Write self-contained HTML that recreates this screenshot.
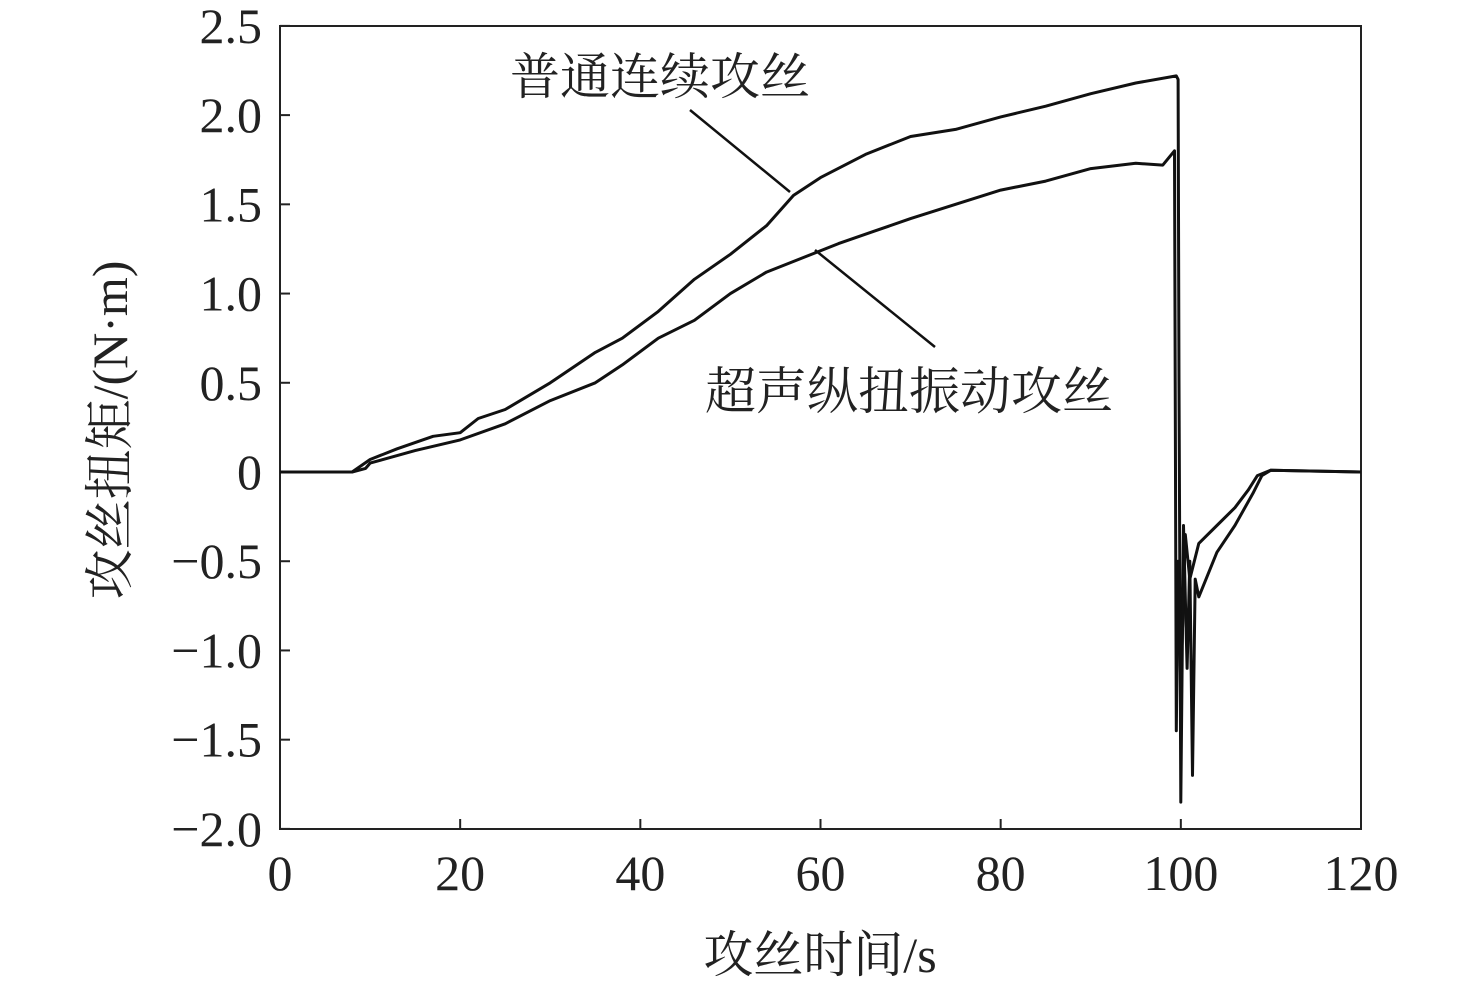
<!DOCTYPE html>
<html><head><meta charset="utf-8"><style>
body{margin:0;background:#fff}
svg text{font-family:"Liberation Serif","Noto Serif CJK SC",serif;fill:#222}
</style></head><body>
<svg width="1476" height="990">
<g id="g"></g>
</svg>
<script>
const xTicks=[0,20,40,60,80,100,120];
const yTicks=[2.5,2.0,1.5,1.0,0.5,0,-0.5,-1.0,-1.5,-2.0];
const yTickLabels=["2.5","2.0","1.5","1.0","0.5","0","\u22120.5","\u22121.0","\u22121.5","\u22122.0"];
const s1T=[0,8,10,13,17,20,22,25,30,35,38,42,46,50,54,57,60,65,70,75,80,85,90,95,99.5,99.7,99.8,100,100.3,100.7,101,101.3,101.6,102,104,106,108,109,110,120];
const s1V=[0,0,0.07,0.13,0.2,0.22,0.3,0.35,0.5,0.67,0.75,0.9,1.08,1.22,1.38,1.55,1.65,1.78,1.88,1.92,1.99,2.05,2.12,2.18,2.22,2.2,0.5,-1.85,-0.3,-1.1,-0.5,-1.7,-0.6,-0.7,-0.45,-0.3,-0.12,-0.02,0.01,0];
const s2T=[0,8,9.5,10,15,20,25,30,35,38,42,46,50,54,58,62,66,70,75,80,85,90,95,98,99.3,99.5,99.7,100,100.5,101,102,104,106,107.5,108.5,110,120];
const s2V=[0,0,0.02,0.05,0.12,0.18,0.27,0.4,0.5,0.6,0.75,0.85,1.0,1.12,1.2,1.28,1.35,1.42,1.5,1.58,1.63,1.7,1.73,1.72,1.8,-1.45,-0.5,-1.2,-0.35,-0.6,-0.4,-0.3,-0.2,-0.1,-0.02,0.01,0];
const X=v=>280+v*(1081/120), Y=v=>472-v*(803/4.5);
const g=document.getElementById('g'),NS='http://www.w3.org/2000/svg';
function mk(t,a,txt){const e=document.createElementNS(NS,t);for(const k in a)e.setAttribute(k,a[k]);if(txt!=null)e.textContent=txt;g.appendChild(e);return e;}
let e=mk('rect',{x:280,y:26,width:1081,height:803,fill:'none',stroke:'#222','stroke-width':2});


xTicks.forEach(t=>{
 let l=mk('line',{x1:X(t),x2:X(t),y1:829,y2:819,stroke:'#222','stroke-width':2});
 
 
 let tx=mk('text',{x:X(t),y:890,'font-size':50,'text-anchor':'middle'},String(t));
 
 
});
yTicks.forEach((t,i)=>{
 let l=mk('line',{x1:280,x2:290,y1:Y(t),y2:Y(t),stroke:'#222','stroke-width':2});
 
 
 let tx=mk('text',{x:262,y:Y(t)+17,'font-size':50,'text-anchor':'end'},yTickLabels[i]);
 
 
});
function line(T,V,name){
 const d=T.map((t,i)=>(i?'L':'M')+X(t).toFixed(1)+','+Y(V[i]).toFixed(1)).join('');
 let p=mk('path',{d:d,fill:'none',stroke:'#111','stroke-width':3,'stroke-linejoin':'round'});
 
 
}
line(s1T,s1V,'series-conventional-tapping');
line(s2T,s2V,'series-ultrasonic-tapping');
e=mk('line',{x1:690,y1:110,x2:790,y2:192,stroke:'#111','stroke-width':2.5});


e=mk('line',{x1:935,y1:347,x2:815,y2:250,stroke:'#111','stroke-width':2.5});


e=mk('text',{x:510,y:94,'font-size':50},'普通连续攻丝');


e=mk('text',{x:705,y:409,'font-size':51},'超声纵扭振动攻丝');


e=mk('text',{x:820,y:972,'font-size':50,'text-anchor':'middle'},'攻丝时间/s');


e=mk('text',{x:0,y:0,'font-size':50,'text-anchor':'middle',transform:'translate(127,430) rotate(-90)'},'攻丝扭矩/(N·m)');


</script>
</body></html>
